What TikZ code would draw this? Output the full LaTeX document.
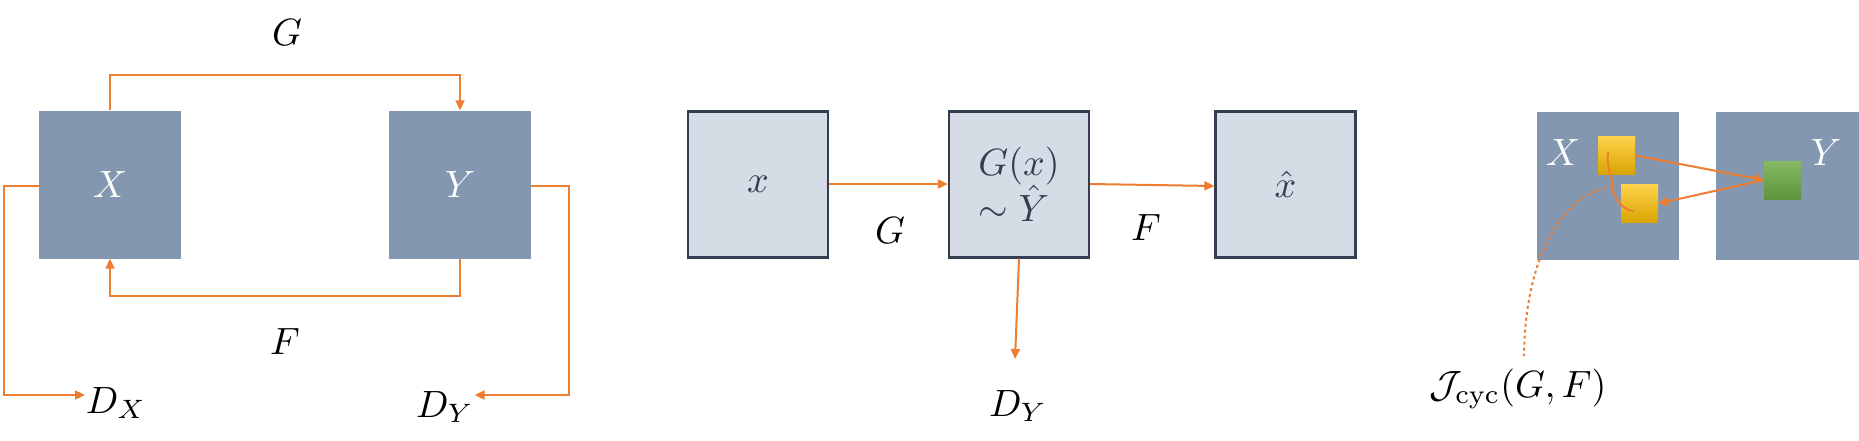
\documentclass[tikz,border=0pt]{standalone}
\usepackage{amsmath}
\usetikzlibrary{arrows.meta}
\definecolor{cdark}{RGB}{132,151,176}
\definecolor{clight}{RGB}{214,220,229}
\definecolor{cedge}{RGB}{51,63,80}
\definecolor{corange}{RGB}{237,125,49}
\definecolor{cyellow}{RGB}{255,192,0}
\definecolor{cgreen}{RGB}{112,173,71}
\tikzset{
  darkbox/.style={fill=cdark,minimum width=142pt,minimum height=148pt,inner sep=0pt},
  lightbox/.style={fill=clight,draw=cedge,line width=2.2pt,minimum width=140pt,minimum height=146pt,inner sep=0pt,text=cedge},
  smallbox/.style={minimum width=37pt,minimum height=38pt,inner sep=0pt},
  lbl/.style={inner sep=0pt,scale=3.8},
  link/.style={draw=corange,line width=2pt,-{Triangle[length=10pt,width=9pt]}}
}
\begin{document}
\begin{tikzpicture}[x=1pt,y=-1pt]
  \useasboundingbox (0,0) rectangle (1859,440);
  % left cycle
  \node[darkbox] (bx) at (110,184.5) {};
  \node[darkbox] (by) at (460,184.5) {};
  \node[lbl,text=white] at (bx) {$X$};
  \node[lbl,text=white] at (by) {$Y$};
  \node[lbl] (lg) at (287,33) {$G$};
  \node[lbl] (lf) at (285,342) {$F$};
  \node[lbl] (dx) at (116,403) {$D_X$};
  \node[lbl] (dy) at (445,407) {$D_Y$};
  \draw[link] (bx.north) -- ++(0,-35) -| (by.north);
  \draw[link] (by.south) -- ++(0,37) -| (bx.south);
  \draw[link] (bx.west|-0,186) -- (4,186) |- (dx.west|-0,395);
  \draw[link] (by.east|-0,186) -- (569,186) |- (dy.east|-0,395);
  % middle chain
  \node[lightbox] (x) at (758,184.5) {};
  \node[lightbox] (gx) at (1019,184.5) {};
  \node[lightbox] (xh) at (1285.5,184.5) {};
  \node[lbl,text=cedge] at (x) {$x$};
  \node[lbl,text=cedge,align=left] at (gx) {$G(x)$\\$\sim\hat{Y}$};
  \node[lbl,text=cedge] at (xh) {$\hat{x}$};
  \node[lbl] (mg) at (890,231) {$G$};
  \node[lbl] (mf) at (1146,228) {$F$};
  \node[lbl] (mdy) at (1018,406) {$D_Y$};
  \draw[link] (x.east|-0,184) -- (gx.west|-0,184);
  \draw[link] (gx.east|-0,184) -- (xh.west|-0,186);
  \draw[link] (gx.south) -- (1015,359);
  % cycle consistency
  \node[darkbox] (cx) at (1607.5,186) {};
  \node[darkbox,minimum width=150pt] (cy) at (1791,186) {};
  \node[lbl,text=white] at (1563,153) {$X$};
  \node[lbl,text=white] at (1826,153) {$Y$};
  \node[smallbox,top color=cyellow!70!white,bottom color=cyellow!85!black] (ya) at (1616.5,155.5) {};
  \node[smallbox,top color=cyellow!70!white,bottom color=cyellow!85!black] (yb) at (1639.5,203.5) {};
  \node[smallbox,top color=cgreen!85!white,bottom color=cgreen!85!black] (gr) at (1782.5,180) {};
  \draw[link] (ya.east) -- (gr.west);
  \draw[link] (gr.west) -- (yb.east);
  \draw[corange,line width=2pt] (1608,152) .. controls (1606,170) and (1614,180) .. (1612,186)
    .. controls (1614,200) and (1624,211) .. (1634,211);
  \draw[corange,line width=2pt,dashed] (1612,186) .. controls (1560,195) and (1525,260) .. (1524,356);
  \node[lbl] (jc) at (1518,389) {$\mathcal{J}_{\mathrm{cyc}}(G,F)$};
\end{tikzpicture}
\end{document}
